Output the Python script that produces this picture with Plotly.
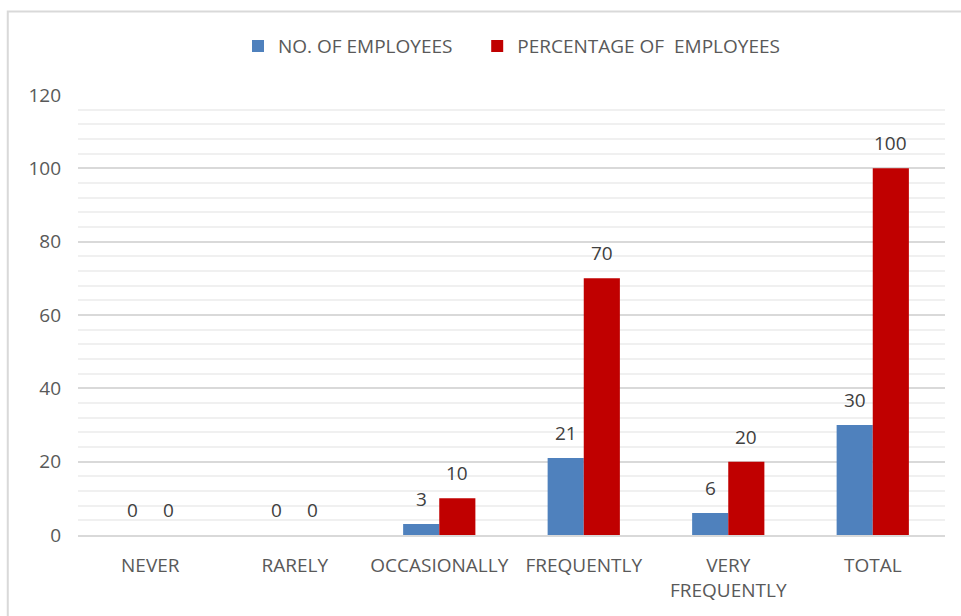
import plotly.graph_objects as go

categories = ["NEVER", "RARELY", "OCCASIONALLY", "FREQUENTLY", "VERY<br>FREQUENTLY", "TOTAL"]
employees = [0, 0, 3, 21, 6, 30]
percentage = [0, 0, 10, 70, 20, 100]
series_names = ["NO. OF EMPLOYEES", "PERCENTAGE OF\u00a0\u00a0EMPLOYEES"]
y_ticks = [0, 20, 40, 60, 80, 100, 120]

BLUE = "#4F81BD"
RED = "#C00000"
TEXT = "#595959"
FONT = "Open Sans, sans-serif"

fig = go.Figure()
# trailing non-breaking spaces widen the gap between the two legend entries
fig.add_trace(go.Bar(x=categories, y=employees, name=series_names[0] + "\u00a0" * 4,
                     marker=dict(color=BLUE, line=dict(width=0))))
fig.add_trace(go.Bar(x=categories, y=percentage, name=series_names[1],
                     marker=dict(color=RED, line=dict(width=0))))

# value labels above each bar of the grouped pairs
annotations = []
for vals, shift in ((employees, -18), (percentage, 18)):
    for cat, v in zip(categories, vals):
        annotations.append(dict(x=cat, y=v, xref="x", yref="y", text=str(v),
                                showarrow=False, xshift=shift, yshift=25,
                                yanchor="middle",
                                font=dict(size=19, color="#404040", family=FONT)))

fig.update_layout(
    width=961, height=616,
    margin=dict(l=78, r=16, t=95, b=81),
    paper_bgcolor="white", plot_bgcolor="white",
    barmode="group", bargap=0.5, bargroupgap=0,
    font=dict(family=FONT, size=19, color=TEXT),
    showlegend=True,
    legend=dict(orientation="h", x=0.5, xanchor="center", y=0.925, yanchor="middle",
                yref="container", font=dict(size=19, color=TEXT),
                itemwidth=30, traceorder="normal"),
    annotations=annotations,
    shapes=[dict(type="rect", xref="paper", yref="paper",
                 x0=-0.081, x1=1.05, y0=-0.3, y1=1.19,
                 line=dict(color="#d9d9d9", width=2), layer="below")],
)

fig.update_xaxes(showgrid=False, showline=True, linecolor="#d9d9d9", linewidth=2,
                 ticks="", tickfont=dict(size=19, color=TEXT), ticklabelstandoff=12)
fig.update_yaxes(range=[0, 120], tickvals=y_ticks, showgrid=True,
                 gridcolor="#d9d9d9", gridwidth=1.5, zeroline=False,
                 showline=False, ticks="", ticklabelstandoff=16,
                 tickfont=dict(size=19, color=TEXT),
                 minor=dict(dtick=4, showgrid=True, gridcolor="#f0f0f0", gridwidth=1.5))

fig.write_html("out.html")
